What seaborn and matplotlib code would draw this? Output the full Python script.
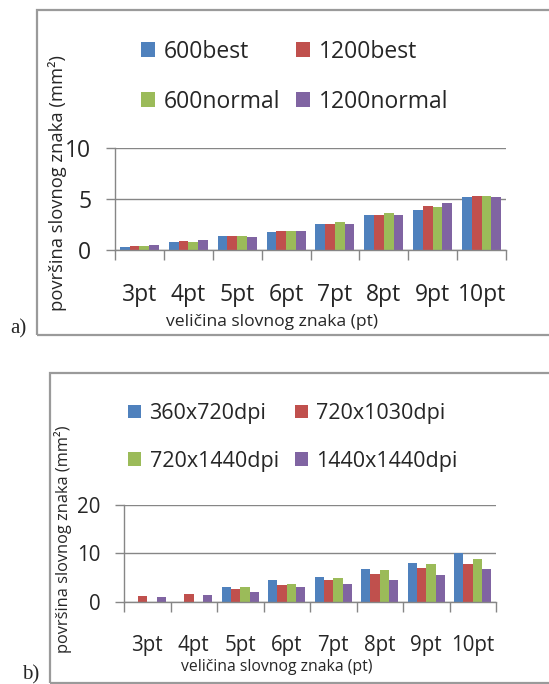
import matplotlib
matplotlib.use("Agg")
import matplotlib.pyplot as plt
import seaborn as sns
import pandas as pd
import numpy as np
from matplotlib.patches import Rectangle

categories = ["3pt", "4pt", "5pt", "6pt", "7pt", "8pt", "9pt", "10pt"]

a_series = ["600best", "1200best", "600normal", "1200normal"]
a_600best = [0.26, 0.75, 1.38, 1.77, 2.52, 3.41, 3.94, 5.18]
a_1200best = [0.40, 0.89, 1.38, 1.90, 2.52, 3.41, 4.30, 5.31]
a_600normal = [0.40, 0.75, 1.38, 1.90, 2.79, 3.67, 4.17, 5.31]
a_1200normal = [0.52, 1.00, 1.28, 1.90, 2.52, 3.41, 4.56, 5.18]

b_series = ["360x720dpi", "720x1030dpi", "720x1440dpi", "1440x1440dpi"]
b_360x720 = [0, 0, 2.94, 4.44, 5.19, 6.69, 7.99, 10.1]
b_720x1030 = [1.16, 1.64, 2.66, 3.41, 4.44, 5.73, 6.96, 7.71]
b_720x1440 = [0, 0, 2.94, 3.69, 4.90, 6.48, 7.71, 8.74]
b_1440x1440 = [0.89, 1.37, 1.91, 2.94, 3.69, 4.44, 5.46, 6.69]

x_label = "veličina slovnog znaka (pt)"
y_label = "površina slovnog znaka (mm²)"

colors = ["#4F81BD", "#C0504D", "#9BBB59", "#8064A2"]
GRAY = "#868686"

sns.set_style("white")
plt.rcParams["font.family"] = ["Open Sans", "DejaVu Sans"]

W, H = 549, 684
fig = plt.figure(figsize=(W / 100, H / 100), dpi=100)


def long_df(series, arrays):
    rows = []
    for s, vals in zip(series, arrays):
        for c, v in zip(categories, vals):
            rows.append({"cat": c, "series": s, "val": v})
    return pd.DataFrame(rows)


def fx(px):
    return px / W


def fy(py):
    return 1 - py / H


def panel(rect_px, series, arrays, ymax, ystep, fs, lfs, xfs, yfs,
          leg_px, ylab_px, xlab_px, colsp, lsp):
    l, r, top, bot = rect_px
    ax = fig.add_axes([fx(l), fy(bot), fx(r) - fx(l), fy(top) - fy(bot)])
    df = long_df(series, arrays)
    sns.barplot(data=df, x="cat", y="val", hue="series", order=categories,
                hue_order=series, palette=colors, saturation=1, width=0.8,
                ax=ax, linewidth=0, legend=True)
    ax.set_xlim(-0.5, len(categories) - 0.5)
    ax.set_ylim(0, ymax)
    ax.set_yticks(np.arange(0, ymax + 0.1, ystep))
    ax.yaxis.grid(True, color=GRAY, lw=1.0)
    ax.set_axisbelow(True)
    for s in ["top", "right"]:
        ax.spines[s].set_visible(False)
    for s in ["left", "bottom"]:
        ax.spines[s].set_color(GRAY)
        ax.spines[s].set_linewidth(1.0)
    ax.set_xticks(np.arange(-0.5, len(categories), 1.0))
    ax.set_xticklabels([])
    ax.set_xticks(np.arange(len(categories)), minor=True)
    ax.set_xticklabels(categories, minor=True, fontsize=fs)
    ax.tick_params(axis="x", which="major", length=7, width=1.0, color=GRAY,
                   direction="out", bottom=True)
    ax.tick_params(axis="x", which="minor", length=0, pad=24)
    ax.tick_params(axis="y", length=6.5, width=1.0, color=GRAY, direction="out",
                   left=True, pad=10.5, labelsize=fs)
    ax.set_xlabel(x_label, fontsize=xfs)
    ax.set_ylabel(y_label, fontsize=yfs)
    ax.xaxis.set_label_coords(fx(xlab_px[0]), fy(xlab_px[1]), transform=fig.transFigure)
    ax.yaxis.set_label_coords(fx(ylab_px[0]), fy(ylab_px[1]), transform=fig.transFigure)
    ax.xaxis.label.set_va("center")
    ax.yaxis.label.set_va("center")
    handles, labels = ax.get_legend_handles_labels()
    order = [0, 2, 1, 3]  # row-wise filling: row1 = series 0,1 ; row2 = series 2,3
    ax.legend([handles[i] for i in order], [labels[i] for i in order], ncol=2,
              frameon=False, fontsize=lfs,
              loc="upper left", bbox_to_anchor=(fx(leg_px[0]), fy(leg_px[1])),
              bbox_transform=fig.transFigure, borderpad=0, borderaxespad=0,
              handlelength=0.6, handleheight=0.6, handletextpad=0.4,
              columnspacing=colsp, labelspacing=lsp)
    return ax


panel((115, 506, 148, 250), a_series,
      [a_600best, a_1200best, a_600normal, a_1200normal],
      10, 5, 16.5, 16.5, 12.6, 13.2, (141, 39.5), (57.5, 183), (272, 322),
      0.68, 1.15)
panel((124, 496, 505, 601.7), b_series,
      [b_360x720, b_720x1030, b_720x1440, b_1440x1440],
      20, 10, 14.8, 15.5, 11.3, 11.8, (128, 403), (63, 539), (277, 667),
      0.75, 1.25)

# outer frames
fig.add_artist(Rectangle((fx(37), fy(335)), 1.2, fy(10) - fy(335),
                         transform=fig.transFigure, fill=False,
                         edgecolor="#9a9a9a", lw=1.6))
fig.add_artist(Rectangle((fx(50), fy(683)), 1.2, fy(373) - fy(683),
                         transform=fig.transFigure, fill=False,
                         edgecolor="#9a9a9a", lw=1.6))

fig.text(fx(10), fy(329), "a)", family="Liberation Serif", fontsize=15,
         va="center", ha="left")
fig.text(fx(22), fy(675), "b)", family="Liberation Serif", fontsize=15,
         va="center", ha="left")

fig.savefig("out.png", dpi=100)
